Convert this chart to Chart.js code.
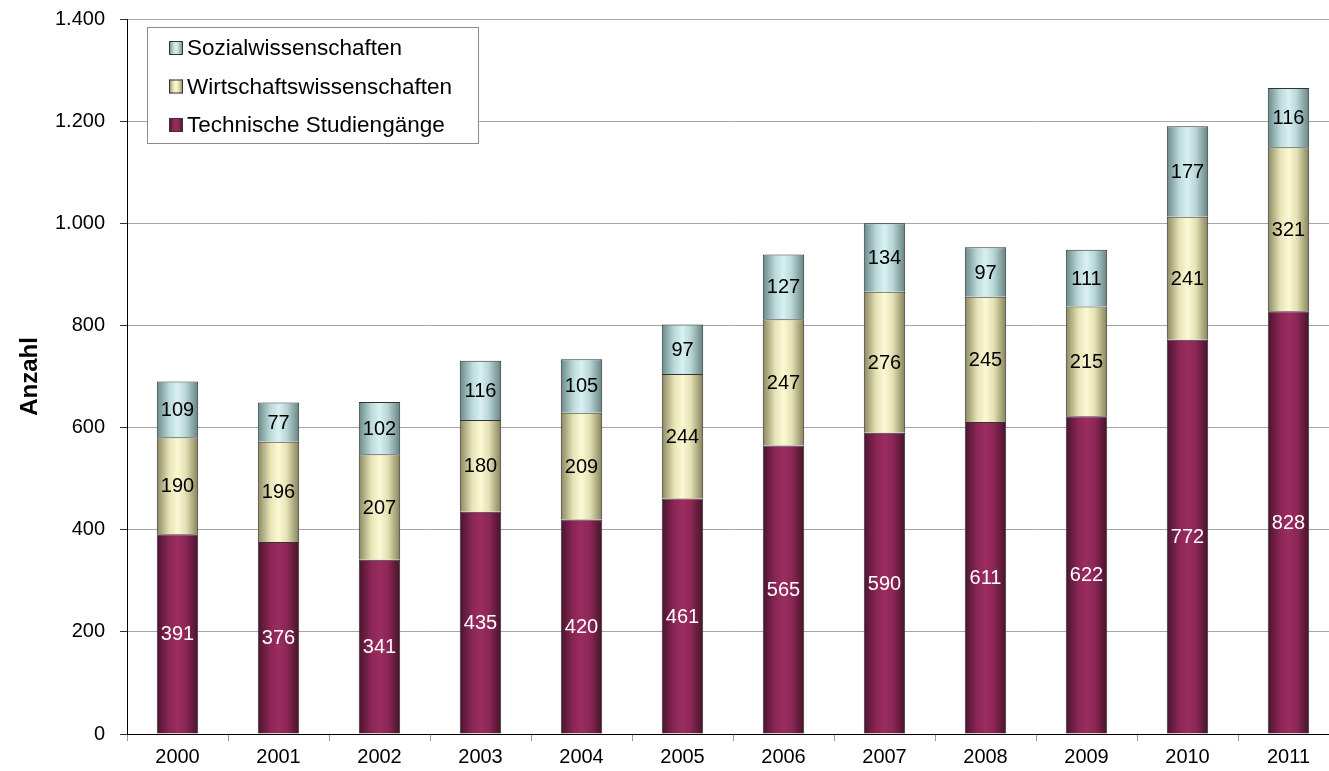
<!DOCTYPE html>
<html>
<head>
<meta charset="utf-8">
<script src="https://cdn.jsdelivr.net/npm/chart.js@4"></script>
<style>
  html, body { margin: 0; padding: 0; overflow: hidden; background: #fff; }
  #wrap { width: 1345px; height: 771px; }
</style>
</head>
<body>
<div id="wrap"><canvas id="myChart"></canvas></div>
<script>
// chart data
const years = ['2000', '2001', '2002', '2003', '2004', '2005', '2006', '2007', '2008', '2009', '2010', '2011'];
const technische = [391, 376, 341, 435, 420, 461, 565, 590, 611, 622, 772, 828];
const wirtschaft = [190, 196, 207, 180, 209, 244, 247, 276, 245, 215, 241, 321];
const sozial = [109, 77, 102, 116, 105, 97, 127, 134, 97, 111, 177, 116];
const yTicks = [0, 200, 400, 600, 800, 1000, 1200, 1400];

const FONT = '"Liberation Sans", Arial, sans-serif';
const BAR_PCT = 0.41;

// colour stops left -> right for the cylinder look
const techStops = ['#4a1430', '#8a2654', '#9b2c60', '#8c2756', '#471329'];
const wirtStops = ['#8a8760', '#e6e3b6', '#fbf9d4', '#e4e1b4', '#848159'];
const sozStops = ['#688887', '#bcd9da', '#d8f0f2', '#b9d6d7', '#64827f'];

function fillGradient(ctx2d, x0, x1, stops) {
  const g = ctx2d.createLinearGradient(x0, 0, x1, 0);
  g.addColorStop(0, stops[0]);
  g.addColorStop(0.3, stops[1]);
  g.addColorStop(0.5, stops[2]);
  g.addColorStop(0.7, stops[3]);
  g.addColorStop(1, stops[4]);
  return g;
}

function barGradient(stops) {
  return function (context) {
    const chart = context.chart;
    const x = chart.scales.x;
    if (!x || context.dataIndex === undefined) return stops[2];
    const cx = x.getPixelForValue(context.dataIndex);
    const half = (x.getPixelForValue(1) - x.getPixelForValue(0)) * BAR_PCT / 2;
    if (!isFinite(cx) || !isFinite(half) || half <= 0) return stops[2];
    return fillGradient(chart.ctx, cx - half, cx + half, stops);
  };
}

function formatDe(v) {
  return String(v).replace(/\B(?=(\d{3})+(?!\d))/g, '.');
}

// values in the middle of each segment
const valueLabels = {
  id: 'valueLabels',
  afterDatasetsDraw(chart) {
    const ctx = chart.ctx;
    ctx.save();
    ctx.font = '20px ' + FONT;
    ctx.textAlign = 'center';
    ctx.textBaseline = 'middle';
    chart.data.datasets.forEach((ds, i) => {
      const meta = chart.getDatasetMeta(i);
      meta.data.forEach((bar, j) => {
        const y = (bar.y + bar.base) / 2;
        ctx.fillStyle = ds.labelColor;
        ctx.fillText(String(ds.data[j]), bar.x, y + 1);
      });
    });
    ctx.restore();
  }
};

// boxed legend in the upper left of the plot
const boxLegend = {
  id: 'boxLegend',
  afterDraw(chart) {
    const ctx = chart.ctx;
    ctx.save();
    ctx.fillStyle = '#fff';
    ctx.fillRect(147, 27, 331, 116);
    ctx.strokeStyle = '#8c8c8c';
    ctx.lineWidth = 1;
    ctx.strokeRect(147.5, 27.5, 331, 116);
    const items = chart.data.datasets.slice().reverse();
    ctx.font = '22.5px ' + FONT;
    ctx.textBaseline = 'middle';
    items.forEach((ds, k) => {
      const cy = 48 + k * 38.5;
      ctx.fillStyle = fillGradient(ctx, 169, 183, ds.stops);
      ctx.fillRect(169, cy - 7, 14, 14);
      ctx.strokeStyle = '#333';
      ctx.strokeRect(169.5, cy - 6.5, 13, 13);
      ctx.fillStyle = '#000';
      ctx.fillText(ds.label, 187, cy + 1);
    });
    ctx.restore();
  }
};

const ctx = document.getElementById('myChart');
new Chart(ctx, {
  type: 'bar',
  data: {
    labels: years,
    datasets: [
      {
        label: 'Technische Studiengänge',
        data: technische,
        stops: techStops,
        labelColor: '#fff',
        backgroundColor: barGradient(techStops),
        borderColor: '#333',
        borderWidth: 1
      },
      {
        label: 'Wirtschaftswissenschaften',
        data: wirtschaft,
        stops: wirtStops,
        labelColor: '#000',
        backgroundColor: barGradient(wirtStops),
        borderColor: '#333',
        borderWidth: 1
      },
      {
        label: 'Sozialwissenschaften',
        data: sozial,
        stops: sozStops,
        labelColor: '#000',
        backgroundColor: barGradient(sozStops),
        borderColor: '#333',
        borderWidth: 1
      }
    ]
  },
  options: {
    responsive: true,
    maintainAspectRatio: false,
    animation: false,
    events: [],
    layout: { padding: { top: 19, right: 6, left: 0, bottom: 0 } },
    datasets: { bar: { categoryPercentage: 1, barPercentage: BAR_PCT } },
    plugins: {
      legend: { display: false },
      tooltip: { enabled: false }
    },
    scales: {
      x: {
        stacked: true,
        afterFit(scale) { scale.height = 37; },
        border: { color: '#000', width: 1 },
        grid: {
          offset: true,
          drawOnChartArea: false,
          tickLength: 7,
          tickColor: '#999'
        },
        ticks: {
          color: '#000',
          padding: 4,
          font: { family: FONT, size: 20 }
        }
      },
      y: {
        stacked: true,
        min: 0,
        max: 1400,
        afterFit(scale) {
          scale.width = 127;
          scale.paddingTop = 0;
          scale.paddingBottom = 0;
        },
        afterBuildTicks(scale) { scale.ticks = yTicks.map(v => ({ value: v })); },
        border: { color: '#000', width: 1 },
        grid: {
          color: '#a6a6a6',
          tickLength: 7,
          tickColor: '#333'
        },
        ticks: {
          color: '#000',
          padding: 15,
          font: { family: FONT, size: 20 },
          callback: v => formatDe(v)
        },
        title: {
          display: true,
          text: 'Anzahl',
          color: '#000',
          padding: { top: 16, bottom: 0 },
          font: { family: FONT, size: 24, weight: 'bold' }
        }
      }
    }
  },
  plugins: [valueLabels, boxLegend]
});
</script>
</body>
</html>
